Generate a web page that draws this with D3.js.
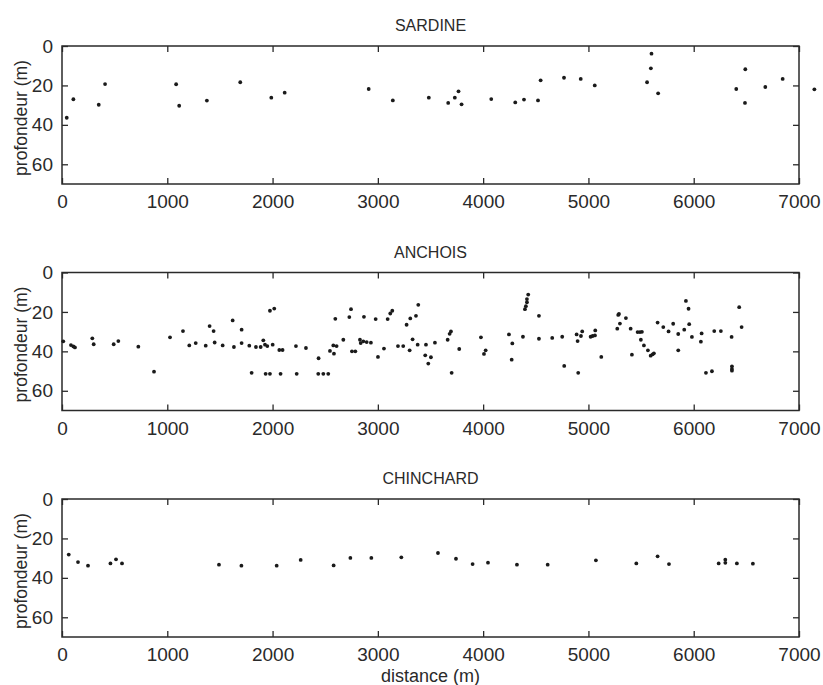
<!DOCTYPE html>
<html>
<head>
<meta charset="utf-8">
<script src="https://cdn.jsdelivr.net/npm/d3@7"></script>
<style>
  html, body { margin: 0; padding: 0; background: #ffffff; }
  svg { display: block; }
  text { font-family: "Liberation Sans", Arial, Helvetica, sans-serif; fill: #2a2a2a; }
</style>
</head>
<body>
<svg id="chart" width="823" height="685"></svg>
<script>
// ---- Data (distance m, profondeur m) ----
const panelTitles = ["SARDINE", "ANCHOIS", "CHINCHARD"];
const xTicks = [0, 1000, 2000, 3000, 4000, 5000, 6000, 7000];
const yTicks = [0, 20, 40, 60];

const sardine = [
  [45,36.4],[108,27],[349,29.8],[409,19.3],[1084,19.4],[1113,30.3],[1376,27.7],[1693,18.4],
  [1988,26.2],[2115,23.7],[2913,21.8],[3142,27.6],[3484,26.2],[3668,28.9],[3731,26.2],[3766,23],
  [3795,29.6],[4077,26.9],[4305,28.6],[4388,27.2],[4521,27.6],[4546,17.4],[4768,16.1],[4927,16.7],
  [5060,20],[5557,18.4],[5599,3.9],[5593,11.3],[5662,24],[6404,21.8],[6490,11.8],[6487,28.9],
  [6680,20.8],[6845,16.7],[7146,22]
];

const anchois = [
  [12,34.9],[85,36.8],[108,37.5],[123,38],[288,33.4],[301,36.4],[491,36.4],[535,34.8],[725,37.6],
  [874,50.3],[1026,32.9],[1149,29.7],[1209,37],[1270,35.8],[1365,37.1],[1402,27.2],[1440,29.7],
  [1450,35.5],[1526,37],[1621,24.3],[1633,37.8],[1706,29],[1706,35.8],[1779,37.1],[1801,50.9],
  [1842,37.8],[1887,37.8],[1912,34.4],[1928,36.6],[1950,37.3],[1975,19.4],[2001,36.6],[2016,18.3],
  [1934,51.4],[1975,51.4],[2064,39.3],[2095,39.3],[2076,51.4],[2222,37.3],[2229,51.4],[2317,38.3],
  [2437,43.5],[2434,51.4],[2482,51.4],[2529,51.4],[2545,39.8],[2583,41.2],[2577,37],[2608,37.3],
  [2596,23.5],[2672,34.1],[2729,22.6],[2745,18.6],[2754,40],[2786,40],[2830,34.1],[2837,35.8],
  [2862,34.9],[2894,35.3],[2934,35.6],[2868,22.5],[2979,23.6],[3001,42.8],[3058,38.6],[3093,23.6],
  [3118,20.8],[3137,19.4],[3191,37.3],[3241,37.3],[3273,26.5],[3302,39.5],[3308,23.3],[3330,33.9],
  [3362,22],[3384,16.4],[3378,36.6],[3457,36.6],[3450,42],[3479,46.2],[3504,43],[3542,35.6],
  [3663,34.1],[3682,31.1],[3694,29.9],[3701,50.9],[3773,38.8],[3979,32.9],[4008,41.3],[4024,39.5],
  [4245,31.4],[4277,36],[4271,44.2],[4378,32.6],[4397,18.6],[4406,17.1],[4416,15.1],[4416,13.5],
  [4428,11.2],[4530,22],[4530,33.6],[4656,33.2],[4751,32.6],[4770,47.4],[4888,31.4],[4897,34.8],
  [4903,50.9],[4929,32.2],[4941,29.9],[5021,32.6],[5040,32.2],[5062,31.9],[5065,29.4],[5122,42.8],
  [5274,28.5],[5283,21.5],[5290,21],[5299,25.9],[5356,23.1],[5401,28.5],[5413,41.7],[5467,30.2],
  [5489,30.2],[5508,30.1],[5498,34.1],[5527,37],[5565,39.5],[5591,42.2],[5610,41.5],[5622,41],
  [5657,25.4],[5711,27.7],[5761,29.9],[5805,26],[5853,31.2],[5853,39.5],[5910,29],[5926,14.4],
  [5951,18.4],[5957,26.2],[5983,32.7],[6075,30.9],[6068,35.1],[6116,50.9],[6173,50.1],[6195,29.7],
  [6258,29.7],[6360,32.7],[6363,47.6],[6363,48.9],[6363,49.8],[6432,17.6],[6455,27.7]
];

const chinchard = [
  [64,28.2],[152,32],[247,33.8],[460,32.7],[513,30.6],[570,32.7],[1491,33.3],[1704,33.8],
  [2039,33.8],[2267,30.9],[2580,33.7],[2739,29.9],[2938,29.9],[3223,29.6],[3571,27.4],[3742,30.3],
  [3900,33],[4046,32.3],[4321,33.3],[4613,33.3],[5071,31.1],[5455,32.7],[5657,29.1],[5765,33],
  [6237,32.7],[6300,30.8],[6300,32.4],[6410,32.7],[6562,32.8]
];

const seriesData = [sardine, anchois, chinchard];

// ---- Layout ----
const svg = d3.select("#chart");
const left = 62, right = 799, panelH = 138;
const panelTops = [46, 272.5, 499];
const ink = "#2a2a2a";

const x = d3.scaleLinear().domain([0, 7000]).range([left, right]);

panelTops.forEach((top, i) => {
  const y = d3.scaleLinear().domain([0, 70]).range([top, top + panelH]);
  const g = svg.append("g");

  // frame
  g.append("rect")
    .attr("x", left).attr("y", top)
    .attr("width", right - left).attr("height", panelH)
    .attr("fill", "none").attr("stroke", ink).attr("stroke-width", 1.5);

  // bottom axis (ticks inward, labels)
  const axB = g.append("g").attr("transform", `translate(0,${top + panelH})`)
    .call(d3.axisBottom(x).tickValues(xTicks).tickSizeInner(-6).tickSizeOuter(0).tickPadding(11).tickFormat(d3.format("d")));
  // top axis ticks
  const axT = g.append("g").attr("transform", `translate(0,${top})`)
    .call(d3.axisTop(x).tickValues(xTicks).tickSizeInner(-6).tickSizeOuter(0).tickFormat(""));
  // left axis
  const axL = g.append("g").attr("transform", `translate(${left},0)`)
    .call(d3.axisLeft(y).tickValues(yTicks).tickSizeInner(-6).tickSizeOuter(0).tickPadding(9).tickFormat(d3.format("d")));
  // right axis ticks
  const axR = g.append("g").attr("transform", `translate(${right},0)`)
    .call(d3.axisRight(y).tickValues(yTicks).tickSizeInner(-6).tickSizeOuter(0).tickFormat(""));

  [axB, axT, axL, axR].forEach(a => {
    a.select(".domain").remove();
    a.selectAll("line").attr("stroke", ink).attr("stroke-width", 1.3);
    a.selectAll("text").attr("font-size", 19).attr("fill", ink)
      .style("font-family", '"Liberation Sans", Arial, sans-serif');
  });
  axB.selectAll("text").attr("dy", "0.71em");

  // title
  g.append("text")
    .attr("x", (left + right) / 2).attr("y", top - 15)
    .attr("text-anchor", "middle").attr("font-size", 16)
    .text(panelTitles[i]);

  // y label
  g.append("text")
    .attr("transform", `translate(27,${top + panelH / 2 + 3}) rotate(-90)`)
    .attr("text-anchor", "middle").attr("font-size", 17.5)
    .text("profondeur (m)");

  // points
  g.append("g").selectAll("circle").data(seriesData[i]).join("circle")
    .attr("cx", d => x(d[0])).attr("cy", d => y(d[1]))
    .attr("r", 1.9).attr("fill", "#1a1a1a");
});

// x label
svg.append("text")
  .attr("x", (left + right) / 2).attr("y", 682)
  .attr("text-anchor", "middle").attr("font-size", 18)
  .text("distance (m)");
</script>
</body>
</html>
